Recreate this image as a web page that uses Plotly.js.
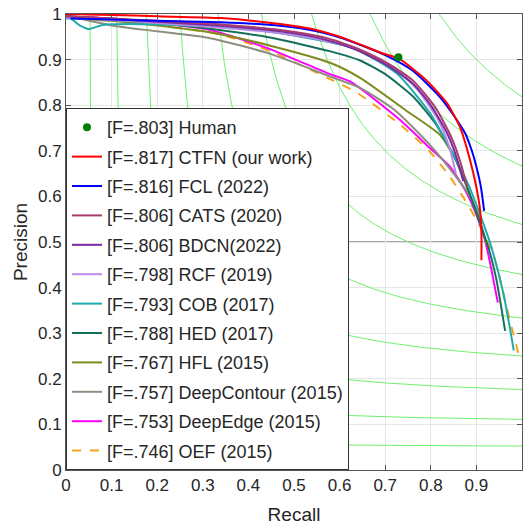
<!DOCTYPE html>
<html>
<head>
<meta charset="utf-8">
<script src="https://cdn.plot.ly/plotly-3.0.1.min.js"></script>
<style>html,body{margin:0;padding:0;background:#fff;}#chart{width:526px;height:527px;}</style>
</head>
<body>
<div id="chart"></div>
<script>
// ---- data ----
const isoFLevels = [0.1,0.2,0.3,0.4,0.5,0.6,0.7,0.8,0.9];
const halfLineLevel = 0.5;

const humanRecall = [0.729];
const humanPrec   = [0.905];

const recallCTFN = [0.00,0.10,0.20,0.34,0.47,0.54,0.615,0.69,0.73,0.79,0.835,0.864,0.886,0.900,0.908,0.911,0.911];
const precCTFN   = [1.000,0.998,0.995,0.991,0.978,0.967,0.945,0.915,0.902,0.855,0.805,0.752,0.680,0.620,0.570,0.520,0.460];

const recallFCL = [0.01,0.10,0.20,0.34,0.47,0.55,0.62,0.70,0.76,0.82,0.85,0.875,0.89,0.90,0.91,0.917];
const precFCL   = [0.990,0.988,0.985,0.982,0.974,0.962,0.942,0.910,0.876,0.818,0.778,0.739,0.700,0.665,0.620,0.568];

const recallCATS = [0.00,0.10,0.20,0.34,0.47,0.56,0.63,0.70,0.76,0.81,0.845,0.865,0.880];
const precCATS   = [0.995,0.990,0.985,0.977,0.965,0.950,0.928,0.895,0.855,0.795,0.730,0.675,0.620];

const recallBDCN = [0.00,0.10,0.20,0.34,0.47,0.56,0.63,0.70,0.76,0.80,0.835,0.855,0.871];
const precBDCN   = [0.995,0.990,0.983,0.974,0.962,0.946,0.924,0.890,0.848,0.800,0.740,0.690,0.634];

const recallRCF = [0.00,0.10,0.20,0.34,0.47,0.55,0.645,0.72,0.77,0.816,0.840,0.855];
const precRCF   = [0.992,0.987,0.980,0.970,0.958,0.945,0.922,0.880,0.835,0.768,0.710,0.650];

const recallCOB = [0.00,0.01,0.03,0.05,0.08,0.14,0.34,0.47,0.63,0.725,0.80,0.85,0.885,0.908,0.930,0.959,0.982];
const precCOB   = [0.990,0.990,0.975,0.967,0.976,0.978,0.972,0.958,0.925,0.870,0.780,0.690,0.620,0.560,0.498,0.388,0.262];

const recallHED = [0.00,0.10,0.20,0.32,0.45,0.58,0.645,0.70,0.76,0.81,0.85,0.88,0.905,0.928,0.944,0.963];
const precHED   = [0.995,0.988,0.980,0.967,0.948,0.918,0.898,0.868,0.820,0.760,0.690,0.620,0.550,0.482,0.417,0.305];

const recallHFL = [0.00,0.10,0.20,0.316,0.45,0.579,0.645,0.745,0.82,0.855,0.879,0.895,0.908];
const precHFL   = [0.992,0.985,0.975,0.960,0.930,0.893,0.860,0.789,0.735,0.680,0.621,0.580,0.550];

const recallDeepContour = [0.00,0.03,0.10,0.20,0.316,0.45,0.579,0.645,0.72,0.798,0.85,0.886,0.905,0.922];
const precDeepContour   = [0.998,0.990,0.975,0.962,0.947,0.912,0.863,0.838,0.790,0.713,0.650,0.600,0.555,0.495];

const recallDeepEdge = [0.00,0.10,0.20,0.316,0.45,0.579,0.623,0.732,0.798,0.842,0.879,0.900,0.919,0.933,0.947];
const precDeepEdge   = [0.995,0.990,0.980,0.965,0.922,0.868,0.852,0.768,0.706,0.665,0.607,0.560,0.504,0.439,0.367];

const recallOEF = [0.00,0.05,0.159,0.342,0.45,0.579,0.637,0.732,0.798,0.842,0.875,0.908,0.941,0.959,0.977,0.992];
const precOEF   = [0.995,0.990,0.981,0.954,0.918,0.857,0.828,0.758,0.698,0.643,0.592,0.534,0.460,0.387,0.314,0.256];

const seriesNames = ["[F=.817] CTFN (our work)","[F=.816] FCL (2022)","[F=.806] CATS (2020)","[F=.806] BDCN(2022)",
  "[F=.798] RCF (2019)","[F=.793] COB (2017)","[F=.788] HED (2017)","[F=.767] HFL (2015)",
  "[F=.757] DeepContour (2015)","[F=.753] DeepEdge (2015)","[F=.746] OEF (2015)"];
const humanName = "[F=.803] Human";

// ---- styling ----
const seriesX = [recallCTFN,recallFCL,recallCATS,recallBDCN,recallRCF,recallCOB,recallHED,recallHFL,recallDeepContour,recallDeepEdge,recallOEF];
const seriesY = [precCTFN,precFCL,precCATS,precBDCN,precRCF,precCOB,precHED,precHFL,precDeepContour,precDeepEdge,precOEF];
const seriesColors = ["#ff0000","#0000ff","#a83c6c","#7a2aa0","#bb8ae8","#1fabab","#15705a","#7d8b1e","#8e8e80","#ff00ff","#f2a51d"];
const seriesDash = ["solid","solid","solid","solid","solid","solid","solid","solid","solid","solid","dash"];

const traces = [];
// iso-F guide curves
isoFLevels.forEach(function(f){
  const r0 = f/(2-f);
  const xs = [], ys = [];
  const n = 160;
  for (let i=0;i<=n;i++){
    const t = i/n;
    const r = r0 + (1-r0)*t*t;
    xs.push(r); ys.push(f*r/(2*r-f));
  }
  traces.push({x:xs,y:ys,mode:'lines',line:{color:'#70f070',width:1},showlegend:false,hoverinfo:'skip'});
});
// draw series in reverse so CTFN is on top; legendrank keeps legend order
for (let i=seriesNames.length-1;i>=0;i--){
  traces.push({x:seriesX[i],y:seriesY[i],mode:'lines',name:seriesNames[i],legendgroup:'g'+i,legendrank:10*(i+2),
    line:{color:seriesColors[i],width:2,dash:seriesDash[i],shape:'spline',smoothing:0.6}});
}
traces.push({x:humanRecall,y:humanPrec,mode:'markers',name:humanName,legendgroup:'h',legendrank:10,
  marker:{color:'#008000',size:8}});

const axisCommon = {
  range:[0,1], dtick:0.1, tick0:0, showgrid:true, gridcolor:'#e6e6e6', gridwidth:1,
  zeroline:false, showline:true, linecolor:'#555', linewidth:1, mirror:'ticks',
  ticks:'inside', ticklen:5, tickcolor:'#555',
  tickfont:{family:'Liberation Sans, Arial, sans-serif',size:17,color:'#262626'}
};

const layout = {
  width:526, height:527,
  margin:{l:66,r:4,t:14,b:57},
  paper_bgcolor:'#fff', plot_bgcolor:'#fff',
  xaxis:Object.assign({},axisCommon,{title:{text:'Recall',font:{family:'Liberation Sans, Arial, sans-serif',size:19,color:'#262626'},standoff:13}}),
  yaxis:Object.assign({},axisCommon,{title:{text:'Precision',font:{family:'Liberation Sans, Arial, sans-serif',size:19,color:'#262626'},standoff:5}}),
  shapes:[{type:'line',xref:'paper',x0:0,x1:1,yref:'y',y0:halfLineLevel,y1:halfLineLevel,line:{color:'#a8a8a8',width:2},layer:'below'}],
  legend:{x:0,y:0,xanchor:'left',yanchor:'bottom',bgcolor:'#fff',bordercolor:'#333',borderwidth:1,
    traceorder:'grouped',tracegroupgap:3,
    font:{family:'Liberation Sans, Arial, sans-serif',size:18,color:'#262626'}},
  showlegend:true
};

Plotly.newPlot('chart',traces,layout,{displayModeBar:false,staticPlot:true});
</script>
</body>
</html>
